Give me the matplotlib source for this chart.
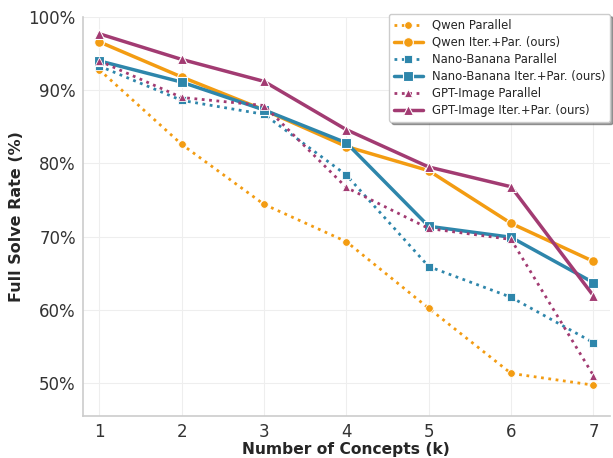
import matplotlib
matplotlib.use("Agg")
import matplotlib.pyplot as plt
import seaborn as sns

sns.set_style("whitegrid")
plt.rcParams['font.family'] = ['DejaVu Sans']

k = [1, 2, 3, 4, 5, 6, 7]

qwen_par = [92.8, 82.6, 74.4, 69.3, 60.2, 51.3, 49.7]
qwen_iter = [96.6, 91.8, 87.3, 82.3, 79.0, 71.8, 66.6]
nano_par = [93.3, 88.6, 86.7, 78.4, 65.9, 61.7, 55.5]
nano_iter = [94.0, 91.1, 87.3, 82.8, 71.4, 69.9, 63.7]
gpt_par = [94.0, 89.0, 87.9, 76.7, 71.1, 69.6, 51.0]
gpt_iter = [97.7, 94.2, 91.2, 84.6, 79.5, 76.8, 61.9]

orange = '#F39C12'
blue = '#2E86AB'
purple = '#A23B72'

fig, ax = plt.subplots(figsize=(6.13, 4.58), dpi=100)

def par(y, c, m, lab):
    ax.plot(k, y, linestyle=':', color=c, marker=m, markersize=5.5, linewidth=2,
            markeredgecolor='white', markeredgewidth=0.6, label=lab)

def it(y, c, m, lab):
    ax.plot(k, y, linestyle='-', color=c, marker=m, markersize=7, linewidth=2.5,
            markeredgecolor='white', markeredgewidth=0.8, label=lab)

par(qwen_par, orange, 'o', 'Qwen Parallel')
it(qwen_iter, orange, 'o', 'Qwen Iter.+Par. (ours)')
par(nano_par, blue, 's', 'Nano-Banana Parallel')
it(nano_iter, blue, 's', 'Nano-Banana Iter.+Par. (ours)')
par(gpt_par, purple, '^', 'GPT-Image Parallel')
it(gpt_iter, purple, '^', 'GPT-Image Iter.+Par. (ours)')

ax.set_xlim(0.8, 7.2)
ax.set_ylim(45.5, 100)
ax.set_xticks(k)
ax.set_yticks([50, 60, 70, 80, 90, 100])
ax.set_yticklabels(['50%', '60%', '70%', '80%', '90%', '100%'])
ax.tick_params(labelsize=12, colors='#333333', pad=1.5)
ax.set_xlabel('Number of Concepts (k)', fontsize=11.2, fontweight='bold', labelpad=0.5)
ax.set_ylabel('Full Solve Rate (%)', fontsize=11.5, fontweight='bold', labelpad=3)
ax.grid(True, color='#eeeeee', linewidth=0.8)
for s in ['top', 'right']:
    ax.spines[s].set_visible(False)
for s in ['left', 'bottom']:
    ax.spines[s].set_color('#cccccc')
    ax.spines[s].set_linewidth(1.2)

leg = ax.legend(loc='upper right', bbox_to_anchor=(1.012, 1.022), fontsize=8.4,
                frameon=True, shadow=True, edgecolor='#cccccc', framealpha=1,
                labelspacing=0.35, handlelength=2.5, borderpad=0.4)

fig.subplots_adjust(left=0.135, right=0.995, top=0.963, bottom=0.092)
fig.savefig('out.png', dpi=100)
